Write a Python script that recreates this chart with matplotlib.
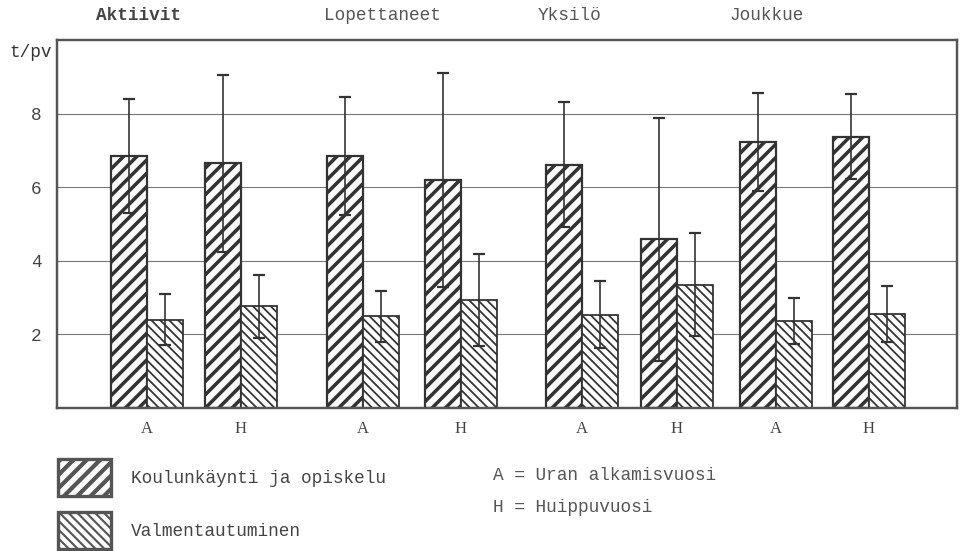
import matplotlib
matplotlib.use('Agg')
import matplotlib.pyplot as plt

# ryhmät ja arvot (t/pv)
ryhmat = ['Aktiivit', 'Lopettaneet', 'Yksilö', 'Joukkue']
vuodet = ['A', 'H', 'A', 'H', 'A', 'H', 'A', 'H']
koulu = [6.86, 6.65, 6.84, 6.20, 6.61, 4.58, 7.23, 7.37]
koulu_sd = [1.55, 2.40, 1.60, 2.90, 1.70, 3.30, 1.33, 1.15]
valm = [2.40, 2.76, 2.49, 2.94, 2.54, 3.35, 2.36, 2.56]
valm_sd = [0.70, 0.85, 0.70, 1.25, 0.90, 1.40, 0.62, 0.76]
y_ticks = [2, 4, 6, 8]

# asettelu
keskukset = [90, 184, 306, 404, 525, 620, 719, 812]
otsikko_x = [81, 325, 513, 710]
leveys = 36
tumma = '#333333'
HLW_KOULU = 3.2
HLW_VALM = 1.6

plt.rcParams['font.family'] = ['Liberation Mono', 'DejaVu Sans Mono']

fig = plt.figure(figsize=(12, 6.8875), dpi=80)
ax = fig.add_axes([57 / 960, 143 / 551, 900 / 960, 368 / 551])


def piirra_palkit(x, arvot, hatch, hlw, lw):
    plt.rcParams['hatch.linewidth'] = hlw
    bars = ax.bar(x, arvot, leveys, color='white', edgecolor=tumma,
                  hatch=hatch, linewidth=lw, zorder=2)
    for b in bars:
        if hasattr(b, 'set_hatch_linewidth'):
            b.set_hatch_linewidth(hlw)
    return bars


x1 = [c - leveys / 2 for c in keskukset]
x2 = [c + leveys / 2 for c in keskukset]
b1 = piirra_palkit(x1, koulu, '//', HLW_KOULU, 2.0)
b2 = piirra_palkit(x2, valm, '\\\\\\', HLW_VALM, 1.6)

ax.errorbar(x1, koulu, yerr=koulu_sd, fmt='none', ecolor=tumma,
            elinewidth=1.5, capsize=5, capthick=2, zorder=3)
ax.errorbar(x2, valm, yerr=valm_sd, fmt='none', ecolor=tumma,
            elinewidth=1.5, capsize=5, capthick=2, zorder=3)

ax.set_xlim(0, 900)
ax.set_ylim(0, 10)
ax.set_yticks(y_ticks)
ax.set_yticklabels([str(v) for v in y_ticks], fontsize=16, color='#444444')
ax.set_xticks(keskukset)
ax.set_xticklabels(vuodet, family='Liberation Serif', fontsize=15, color='#444444')
ax.tick_params(length=0, axis='y', pad=14)
ax.tick_params(length=0, axis='x', pad=12)
ax.grid(axis='y', color='#777777', linewidth=1)
ax.set_axisbelow(True)
for s in ax.spines.values():
    s.set_linewidth(2.2)
    s.set_color('#555555')

ax.annotate('t/pv', xy=(0, 1), xycoords='axes fraction', xytext=(-5, -11),
            textcoords='offset points', fontsize=16, color='#333333',
            ha='right', va='center')

for nimi, x in zip(ryhmat, otsikko_x):
    ax.annotate(nimi, xy=(x, 1), xycoords=('data', 'axes fraction'),
                xytext=(0, 22), textcoords='offset points', ha='center',
                va='center', fontsize=16,
                color='#444444' if nimi == 'Aktiivit' else '#555555',
                fontweight='bold' if nimi == 'Aktiivit' else 'normal')

leg = fig.legend([b1[0], b2[0]], ['Koulunkäynti ja opiskelu', 'Valmentautuminen'],
                 loc='upper left', bbox_to_anchor=(58 / 960, 1 - 459 / 551),
                 frameon=False, fontsize=16, borderpad=0, borderaxespad=0,
                 handlelength=3.0, handleheight=2.82, labelspacing=0.9,
                 handletextpad=1.1, labelcolor='#444444')
for h, hlw in zip(leg.legend_handles, [HLW_KOULU + 0.6, HLW_VALM + 0.3]):
    h.set_linewidth(3)
    h.set_edgecolor('#555555')
    if hasattr(h, 'set_hatch_linewidth'):
        h.set_hatch_linewidth(hlw)

fig.text(493 / 960, 1 - 475 / 551, 'A = Uran alkamisvuosi', fontsize=16,
         color='#555555', va='center')
fig.text(493 / 960, 1 - 508 / 551, 'H = Huippuvuosi', fontsize=16,
         color='#555555', va='center')

fig.savefig('out.png', dpi=80, facecolor='white')
